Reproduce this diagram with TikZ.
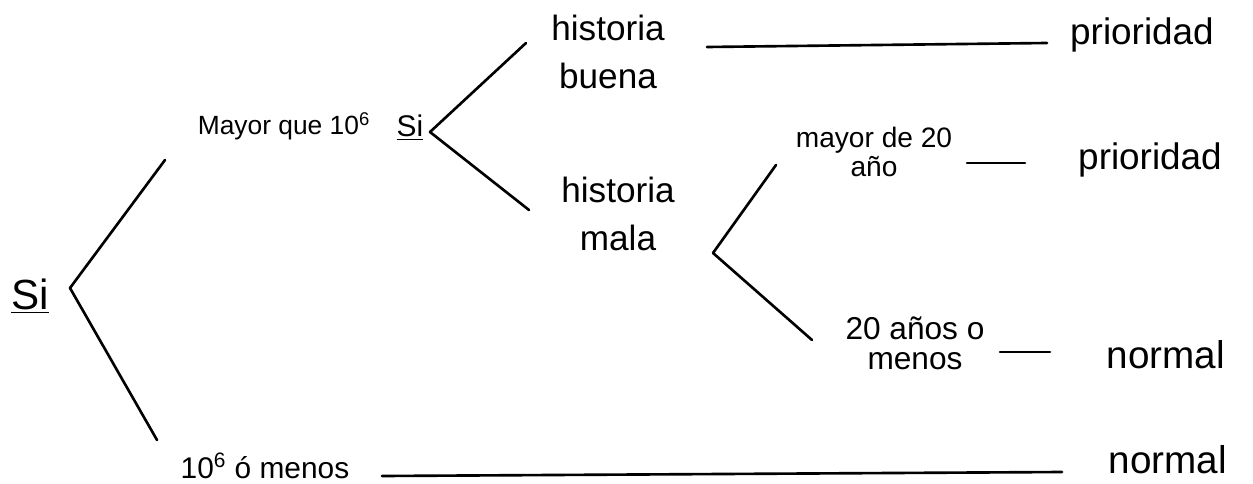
\documentclass[tikz,border=0pt]{standalone}
\usepackage{fontspec}
\setmainfont{Liberation Sans}
\begin{document}
\begin{tikzpicture}[x=0.02cm,y=-0.02cm,
  wire/.style={line width=1.5pt, line cap=round, line join=round},
  lbl/.style={inner sep=0pt, align=center, font=\fontsize{20}{27}\selectfont},
  small/.style={inner sep=0pt, align=center, font=\fontsize{16}{17}\selectfont}]
\useasboundingbox (0,0) rectangle (1253,483);
% labels
\node[lbl, font=\fontsize{24}{28}\selectfont] (root) at (30,296) {\underline{Si}};
\node[lbl, font=\fontsize{15}{16}\selectfont] (may) at (284,126) {Mayor que 10\textsuperscript{6}};
\node[lbl, font=\fontsize{17}{18}\selectfont] (si2) at (410,128) {\underline{Si}};
\node[lbl] (hb) at (608,52) {historia\\buena};
\node[lbl] (hm) at (618,214) {historia\\mala};
\node[lbl, font=\fontsize{21}{24}\selectfont] (p1) at (1142,35) {prioridad};
\node[small] (m20) at (874,152) {mayor de 20\\año};
\node[lbl, font=\fontsize{21}{24}\selectfont] (p2) at (1150,160) {prioridad};
\node[lbl, font=\fontsize{18}{17}\selectfont] (a20) at (915,343) {20 años o\\menos};
\node[lbl, font=\fontsize{22}{24}\selectfont] (n1) at (1166,355) {normal};
\node[lbl, font=\fontsize{17}{20}\selectfont] (men) at (265,466) {10\textsuperscript{6} ó menos};
\node[lbl, font=\fontsize{22}{24}\selectfont] (n2) at (1168,460) {normal};
% branch points
\coordinate (v1) at (70,288);
\coordinate (v1u) at (165,160);
\coordinate (v1d) at (157,440);
\coordinate (v2) at (430,132);
\coordinate (v2u) at (526,43);
\coordinate (v2d) at (529,210);
\coordinate (v3) at (713,253);
\coordinate (v3u) at (776,165);
\coordinate (v3d) at (812,340);
% horizontal leaders
\coordinate (h1a) at (707,47);  \coordinate (h1b) at (1047,43);
\coordinate (h2a) at (967,163); \coordinate (h2b) at (1025,163);
\coordinate (h3a) at (1000,352); \coordinate (h3b) at (1050,352);
\coordinate (h4a) at (382,476); \coordinate (h4b) at (1062,472);
\draw[wire] (v1u) -- (v1) -- (v1d);
\draw[wire] (v2u) -- (v2) -- (v2d);
\draw[wire] (v3u) -- (v3) -- (v3d);
\draw[wire] (h1a) -- (h1b);
\draw[wire] (h2a) -- (h2b);
\draw[wire] (h3a) -- (h3b);
\draw[wire] (h4a) -- (h4b);
\end{tikzpicture}
\end{document}
